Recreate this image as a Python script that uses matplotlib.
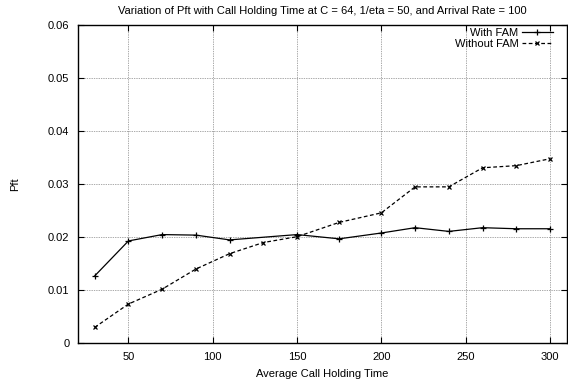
#Purpose: Pft versus average call holding time, with and without FAM
import matplotlib
matplotlib.use('Agg')
import matplotlib.pyplot as plt

##########################################
#Data
hold_with = [30, 50, 70, 90, 110, 150, 175, 200, 220, 240, 260, 280, 300]
pft_with = [0.0127, 0.0193, 0.0205, 0.0204, 0.0195, 0.0205, 0.0197, 0.0208,
            0.0218, 0.0211, 0.0218, 0.0216, 0.0216]

hold_without = [30, 50, 70, 90, 110, 130, 150, 175, 200, 220, 240, 260, 280, 300]
pft_without = [0.0030, 0.0074, 0.0102, 0.0140, 0.0169, 0.0190, 0.0201, 0.0228,
               0.0246, 0.0295, 0.0295, 0.0331, 0.0335, 0.0348]

x_ticks = [50, 100, 150, 200, 250, 300]
y_ticks = [0, 0.01, 0.02, 0.03, 0.04, 0.05, 0.06]
y_ticklabels = ['0', '0.01', '0.02', '0.03', '0.04', '0.05', '0.06']

##########################################
#Plot
plt.rcParams['font.family'] = ['Liberation Sans', 'DejaVu Sans']
font_size = 8

fig = plt.figure(figsize=(5.68, 3.81), dpi=100)
ax = fig.add_axes([0.137, 0.099, 0.861, 0.835])

ax.plot(hold_with, pft_with, color='black', lw=0.9, marker='+', ms=4, mew=0.9,
        label='With FAM')
ax.plot(hold_without, pft_without, color='black', lw=0.9, ls=(0, (3, 2)), marker='x',
        ms=3.5, mew=0.9, label='Without FAM')

ax.set_xlim(20, 310)
ax.set_ylim(0, 0.06)
ax.set_xticks(x_ticks)
ax.set_yticks(y_ticks)
ax.set_yticklabels(y_ticklabels)
ax.tick_params(direction='in', length=4, width=0.8, top=True, right=True,
               labelsize=font_size, colors='black', pad=6)
ax.grid(True, color='#555555', ls=(0, (1, 1.5)), lw=0.5)
for sp in ax.spines.values():
    sp.set_linewidth(1.0)

ax.set_xlabel('Average Call Holding Time', fontsize=font_size, labelpad=5)
ax.set_ylabel('Pft', fontsize=font_size, labelpad=20)
ax.set_title('Variation of Pft with Call Holding Time at C = 64, 1/eta = 50, and Arrival Rate = 100',
             fontsize=font_size, pad=8)

#Legend: text right of the sample line, gnuplot style
leg = ax.legend(loc='upper right', bbox_to_anchor=(1 - 14 / 489., 1 - 3 / 318.),
                markerfirst=False, frameon=False, fontsize=font_size,
                handlelength=2.8, handletextpad=0.3, labelspacing=0.1,
                borderaxespad=0, borderpad=0)
for t in leg.get_texts():
    t.set_ha('right')

plt.savefig('out.png', dpi=100)
